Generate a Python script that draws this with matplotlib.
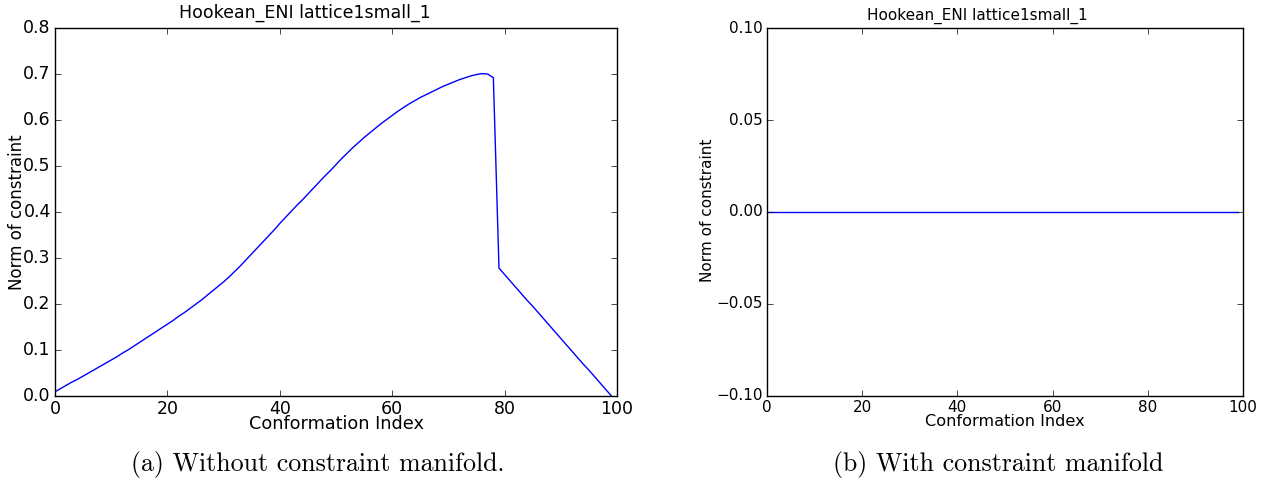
import matplotlib
matplotlib.use('Agg')
import matplotlib.pyplot as plt
import numpy as np

# Norm of constraint per conformation, without constraint manifold
norm_without = [
    0.009, 0.016, 0.023, 0.030, 0.036, 0.043, 0.050, 0.057, 0.064, 0.071,
    0.078, 0.085, 0.093, 0.100, 0.108, 0.116, 0.124, 0.132, 0.140, 0.148,
    0.156, 0.164, 0.173, 0.181, 0.190, 0.199, 0.208, 0.218, 0.228, 0.238,
    0.248, 0.259, 0.271, 0.283, 0.296, 0.309, 0.322, 0.335, 0.348, 0.361,
    0.375, 0.388, 0.401, 0.414, 0.426, 0.439, 0.452, 0.465, 0.478, 0.490,
    0.503, 0.516, 0.528, 0.540, 0.551, 0.562, 0.572, 0.582, 0.592, 0.601,
    0.610, 0.619, 0.627, 0.635, 0.642, 0.649, 0.655, 0.661, 0.667, 0.673,
    0.678, 0.683, 0.688, 0.692, 0.696, 0.699, 0.701, 0.700, 0.692, 0.278,
    0.264, 0.250, 0.236, 0.222, 0.208, 0.195, 0.181, 0.167, 0.153, 0.139,
    0.125, 0.111, 0.097, 0.083, 0.069, 0.056, 0.042, 0.028, 0.014, 0.000,
]
# with constraint manifold the norm stays at zero
norm_with = [0.0] * 100

title = 'Hookean_ENI lattice1small_1'
xlabel = 'Conformation Index'
ylabel = 'Norm of constraint'
captions = ['(a) Without constraint manifold.', '(b) With constraint manifold']

plt.style.use('classic')
plt.rcParams['axes.unicode_minus'] = True

fig = plt.figure(figsize=(12.78, 4.84), dpi=100, facecolor='white')

# 左图
ax1 = fig.add_axes([0.043, 0.182, 0.4398, 0.760])
ax1.plot(np.arange(len(norm_without)), norm_without, color='b', linewidth=1)
ax1.set_xlim(0, 100)
ax1.set_ylim(0, 0.8)
ax1.set_xticks(np.arange(0, 101, 20))
ax1.set_yticks(np.arange(0, 0.81, 0.1))
ax1.tick_params(labelsize=12.5, direction='in', length=4, pad=3)
fig.text(305 / 1278, 1 - 13 / 484, title, ha='center', va='center', fontsize=12.5)
fig.text(336 / 1278, 1 - 424 / 484, xlabel, ha='center', va='center', fontsize=12.7)
fig.text(17 / 1278, 1 - 212 / 484, ylabel, ha='center', va='center',
         rotation=90, fontsize=12)

# 右图
ax2 = fig.add_axes([0.600, 0.182, 0.3726, 0.760])
ax2.plot(np.arange(len(norm_with)), norm_with, color='b', linewidth=1)
ax2.set_xlim(0, 100)
ax2.set_ylim(-0.1, 0.1)
ax2.set_xticks(np.arange(0, 101, 20))
ax2.set_yticks([-0.1, -0.05, 0.0, 0.05, 0.1])
ax2.set_yticklabels(['\u22120.10', '\u22120.05', '0.00', '0.05', '0.10'])
ax2.tick_params(labelsize=11, direction='in', length=4, pad=3)
fig.text(977 / 1278, 1 - 16 / 484, title, ha='center', va='center', fontsize=11)
fig.text(1005 / 1278, 1 - 421 / 484, xlabel, ha='center', va='center', fontsize=11.6)
fig.text(708 / 1278, 1 - 210 / 484, ylabel, ha='center', va='center',
         rotation=90, fontsize=11)

# 子图标题
fig.text(318 / 1278, 1 - 465 / 484, captions[0], ha='center', va='center',
         fontsize=18.6, family='cmr10')
fig.text(998 / 1278, 1 - 465 / 484, captions[1], ha='center', va='center',
         fontsize=18.6, family='cmr10')

plt.savefig('out.png', dpi=100, facecolor='white')
plt.close()
